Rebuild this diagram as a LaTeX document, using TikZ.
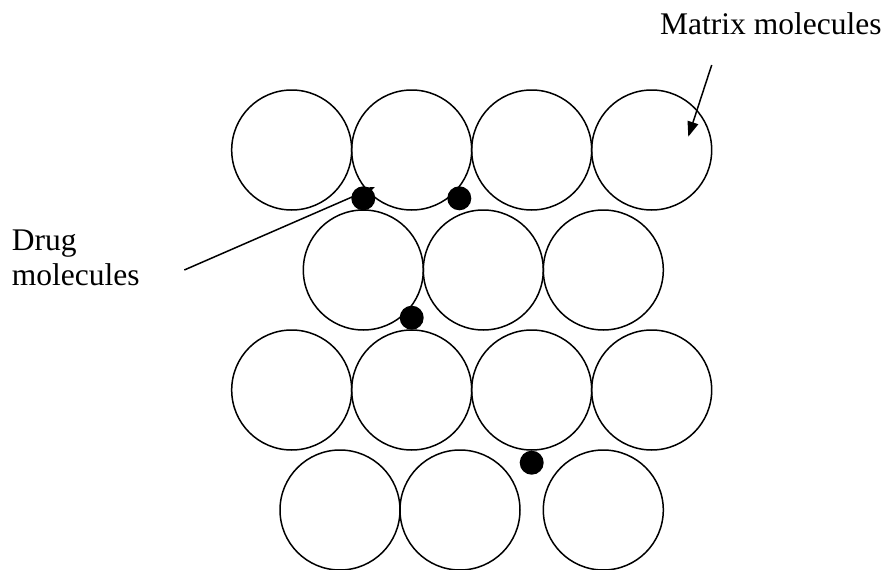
\documentclass[tikz,border=0pt]{standalone}
\usepackage{fontspec}
\setmainfont{Liberation Serif}
\usetikzlibrary{arrows.meta}
\begin{document}
\begin{tikzpicture}[x=1pt,y=-1pt,
  mol/.style={circle,draw=black,line width=1.5pt,minimum size=120pt,inner sep=0pt},
  drug/.style={circle,fill=black,minimum size=24pt,inner sep=0pt},
  lbl/.style={font=\fontsize{31.5}{34.3}\selectfont,inner sep=0pt},
  pointer/.style={line width=1.5pt,-{Triangle[length=15pt,width=11pt]}}]
\useasboundingbox (0,0) rectangle (887,570);
% row 1
\node[mol] (m11) at (291.7,150) {};
\node[mol] (m12) at (411.7,150) {};
\node[mol] (m13) at (531.7,150) {};
\node[mol] (m14) at (651.7,150) {};
% row 2
\node[mol] (m21) at (363.3,270) {};
\node[mol] (m22) at (483.3,270) {};
\node[mol] (m23) at (603.3,270) {};
% row 3
\node[mol] (m31) at (291.7,390) {};
\node[mol] (m32) at (411.7,390) {};
\node[mol] (m33) at (531.7,390) {};
\node[mol] (m34) at (651.7,390) {};
% row 4
\node[mol] (m41) at (340,510) {};
\node[mol] (m42) at (460,510) {};
\node[mol] (m43) at (603.3,510) {};
% labels
\node[lbl,anchor=base east] (matrix) at (881.7,34.3) {Matrix molecules};
\node[lbl,anchor=base west] (drugA) at (11.7,250.7) {Drug};
\node[lbl,anchor=base west] (drugB) at (11.7,285) {molecules};
% pointers
\coordinate (dtail) at (184.3,270);
\coordinate (dtip) at (375,187);
\coordinate (mtail) at (711.7,65);
\coordinate (mtip) at (688.3,136.7);
\draw[pointer] (dtail) -- (dtip);
\draw[pointer] (mtail) -- (mtip);
% drug molecules
\node[drug] (d1) at (363.3,198.3) {};
\node[drug] (d2) at (459.3,198.3) {};
\node[drug] (d3) at (411.7,317.7) {};
\node[drug] (d4) at (531.7,462.7) {};
\end{tikzpicture}
\end{document}
